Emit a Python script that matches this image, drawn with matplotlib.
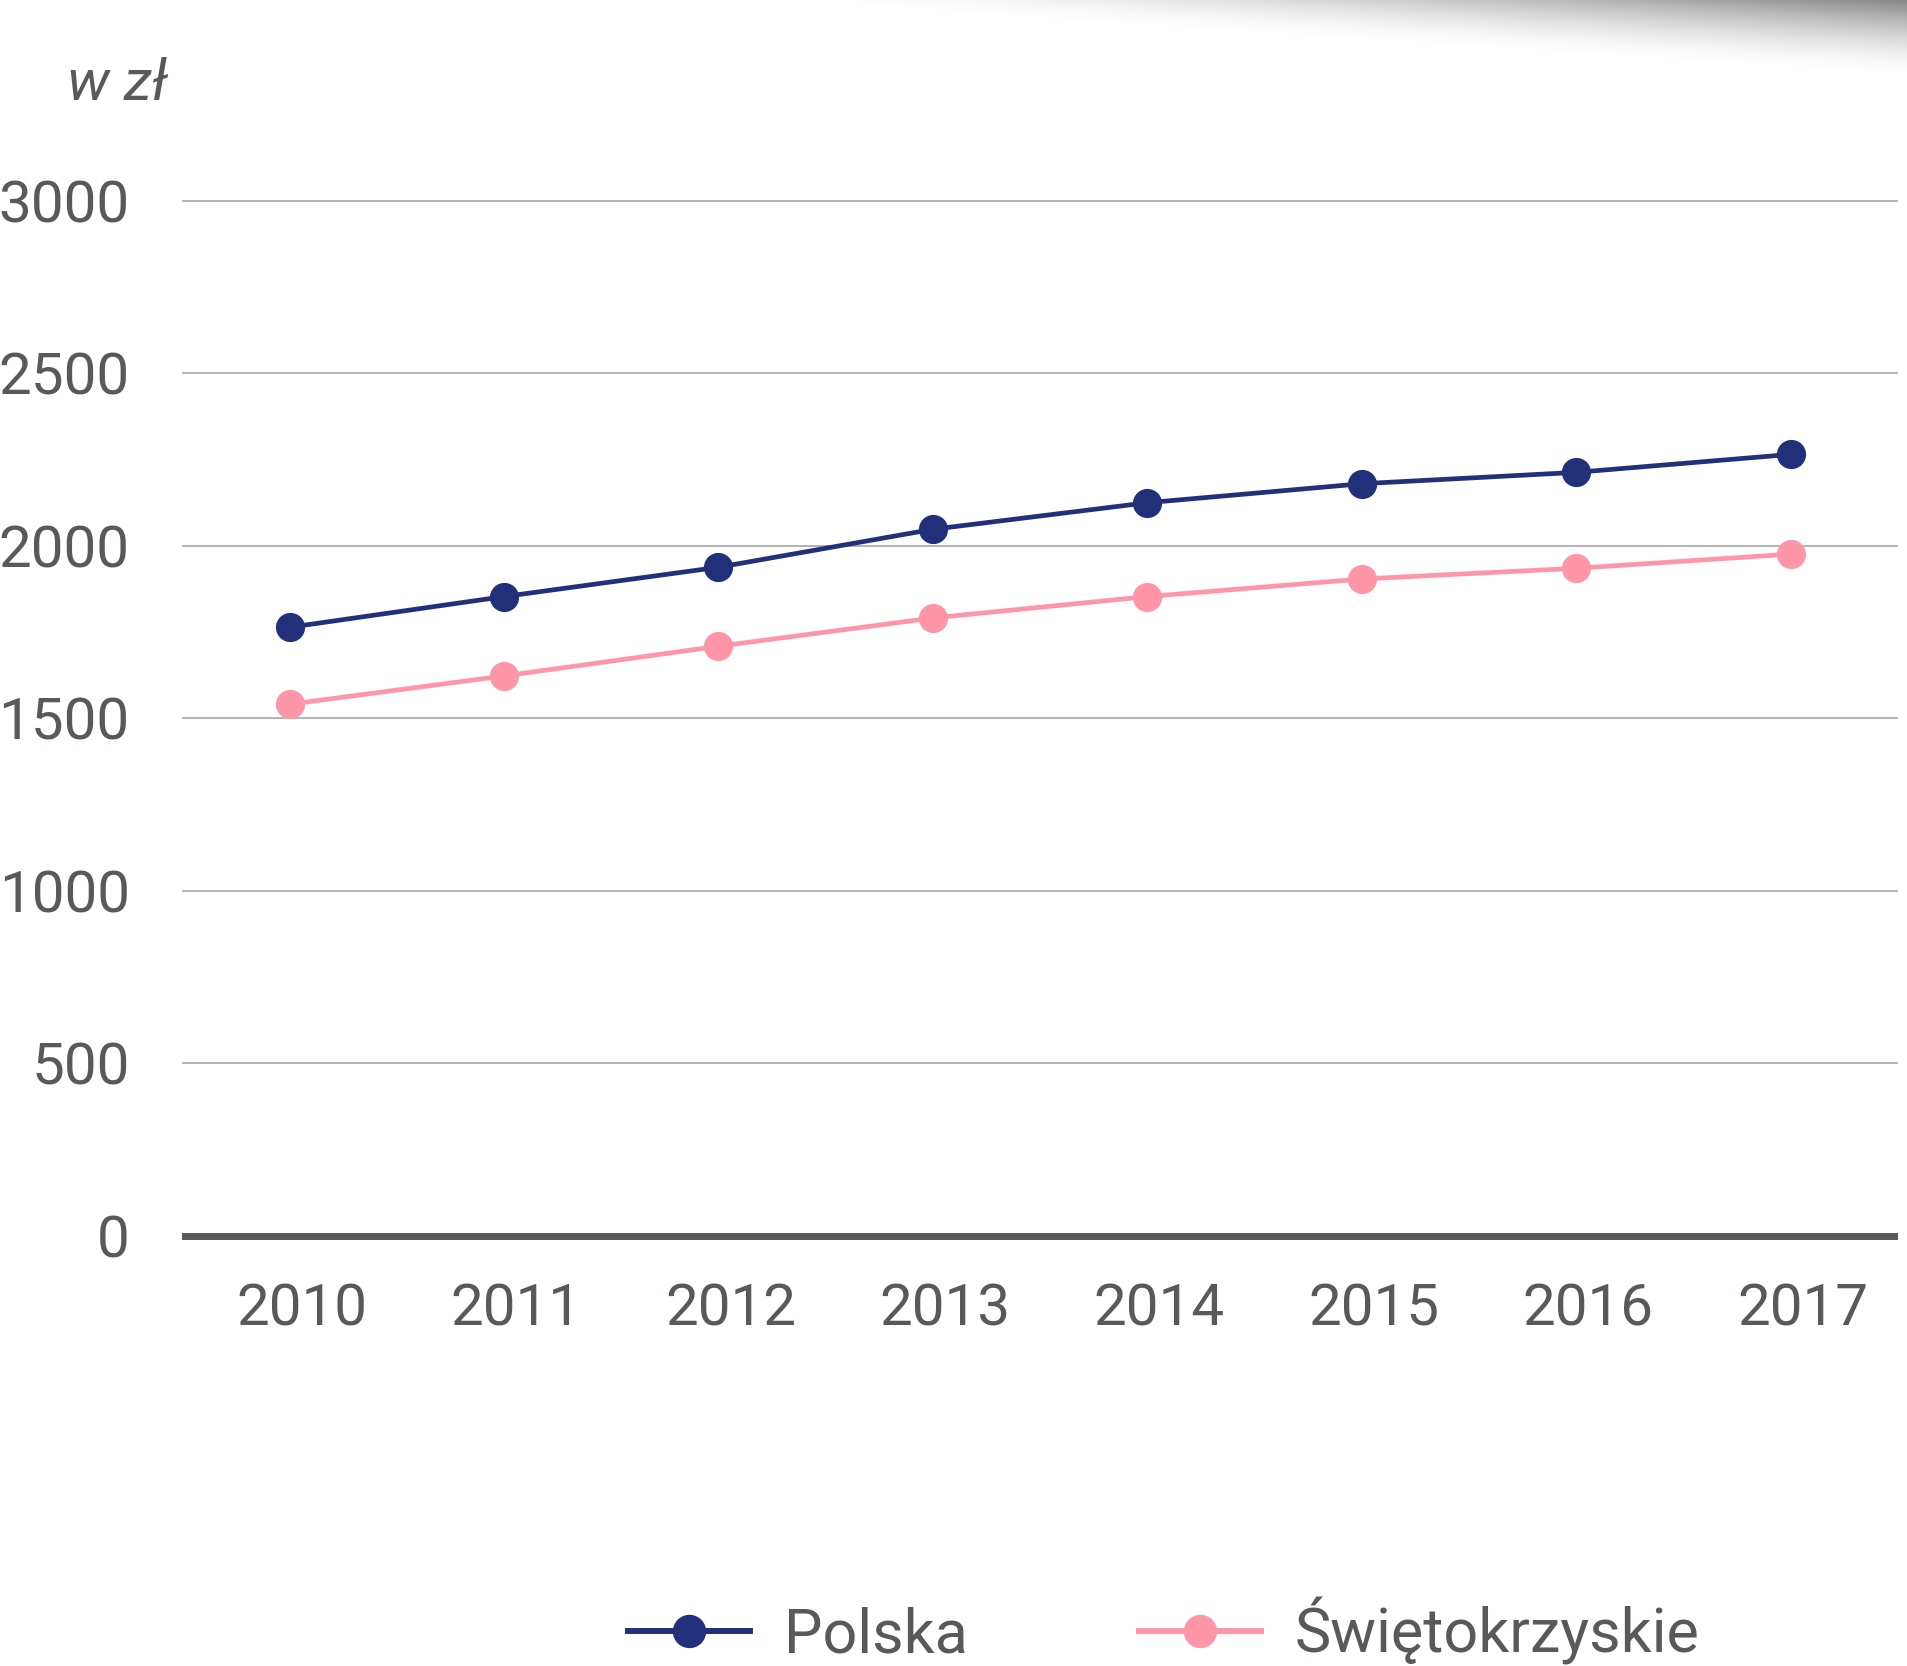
import matplotlib
matplotlib.use("Agg")
import matplotlib.pyplot as plt
import matplotlib.transforms as mtransforms
from matplotlib.lines import Line2D
import numpy as np

# data
years = [2010, 2011, 2012, 2013, 2014, 2015, 2016, 2017]
polska = [1764, 1853, 1938, 2048, 2125, 2180, 2213, 2265]
swietokrzyskie = [1541, 1623, 1709, 1791, 1853, 1904, 1935, 1976]
series_names = ["Polska", "Świętokrzyskie"]
y_ticks = [0, 500, 1000, 1500, 2000, 2500, 3000]

navy = "#22307a"
pink = "#ff96a8"
txt = "#58595b"
grid = "#a6a6a6"

plt.rcParams['font.family'] = ['Roboto', 'DejaVu Sans']

W, H = 1908, 1666
fig = plt.figure(figsize=(W / 100, H / 100), dpi=100)

# grey shading along the top right edge (decoration)
sh = 100
px, py = np.meshgrid(np.arange(W), np.arange(sh))
u = np.clip((px - 820) / (W - 820), 0, 1)
depth = 6 + 70 * u
fade = np.clip(1 - py / depth, 0, 1) ** 1.6
alpha = 0.78 * u ** 1.4 * fade
shade = np.zeros((sh, W, 4))
shade[..., :3] = 0.40
shade[..., 3] = alpha
fig.figimage(shade, xo=0, yo=H - sh, origin="upper", zorder=0)

ax = fig.add_axes([0.0956, 0.2374, 0.8991, 0.6628])
ax.patch.set_alpha(0)
ax.set_xlim(2009.5, 2017.5)
ax.set_ylim(-100, 3100)

for v in y_ticks[1:]:
    ax.axhline(v, color=grid, lw=1.2, zorder=1)
ax.axhline(0, color=txt, lw=5, zorder=2)

ax.plot(years, polska, color=navy, lw=3.4, marker="o", ms=20, zorder=4)
ax.plot(years, swietokrzyskie, color=pink, lw=3.4, marker="o", ms=20, zorder=3)

for s in ax.spines.values():
    s.set_visible(False)
ax.set_xticks(years)
ax.set_xticklabels([str(y) for y in years])
ax.set_yticks(y_ticks)
ax.set_yticklabels([str(v) for v in y_ticks])
ax.tick_params(axis="both", length=0, labelsize=42, labelcolor=txt)
ax.tick_params(axis="y", pad=38)
ax.tick_params(axis="x", pad=9)
off = mtransforms.ScaledTranslation(12 / 100, 0, fig.dpi_scale_trans)
for lab in ax.get_xticklabels():
    lab.set_transform(lab.get_transform() + off)

fig.text(67 / W, 1 - 85 / H, "w zł", fontsize=42, style="italic",
         color=txt, va="center", ha="left")

handles = [Line2D([], [], color=navy, lw=4.3, marker="o", ms=23),
           Line2D([], [], color=pink, lw=4.3, marker="o", ms=23)]
fig.legend(handles, series_names, loc="center", bbox_to_anchor=(0.61, 1 - 1631 / H),
           ncol=2, frameon=False, fontsize=44, labelcolor=txt,
           handlelength=2.0, handletextpad=0.55, columnspacing=2.8)

fig.savefig("out.png", dpi=100)
